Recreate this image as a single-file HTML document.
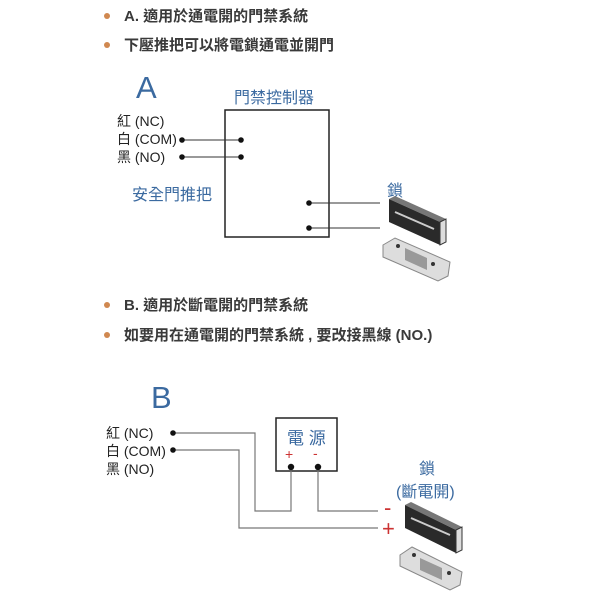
<!DOCTYPE html>
<html><head><meta charset="utf-8"><style>
body{margin:0;width:600px;height:600px;background:#fff;position:relative;overflow:hidden;font-family:"Liberation Sans","Noto Sans CJK TC",sans-serif}
.t{position:absolute;white-space:nowrap}
.b{font-size:15px;font-weight:bold;color:#3a3a3a}
.d{position:absolute;width:6px;height:6px;border-radius:3px;background:#d08850}
.l{font-size:14px;color:#222}
.blue{color:#3b6aa0}
</style></head><body>
<div class="d" style="left:104px;top:13px"></div>
<div class="t b" style="left:124px;top:5px">A. 適用於通電開的門禁系統</div>
<div class="d" style="left:104px;top:42px"></div>
<div class="t b" style="left:124px;top:34px">下壓推把可以將電鎖通電並開門</div>
<div class="d" style="left:104px;top:302px"></div>
<div class="t b" style="left:124px;top:294px">B. 適用於斷電開的門禁系統</div>
<div class="d" style="left:104px;top:332px"></div>
<div class="t b" style="left:124px;top:324px">如要用在通電開的門禁系統 , 要改接黑線 (NO.)</div>

<div class="t blue" style="left:136px;top:70px;font-size:31px">A</div>
<div class="t blue" style="left:234px;top:84px;font-size:16px">門禁控制器</div>
<div class="t l" style="left:117px;top:112px;line-height:18px">紅 (NC)<br>白 (COM)<br>黑 (NO)</div>
<div class="t blue" style="left:132px;top:181px;font-size:16px">安全門推把</div>
<div class="t blue" style="left:387px;top:177px;font-size:16px">鎖</div>

<div class="t blue" style="left:151px;top:380px;font-size:31px">B</div>
<div class="t l" style="left:106px;top:424px;line-height:18px">紅 (NC)<br>白 (COM)<br>黑 (NO)</div>
<div class="t blue" style="left:287px;top:424px;font-size:17px">電 源</div>
<div class="t blue" style="left:419px;top:455px;font-size:16px">鎖</div>
<div class="t blue" style="left:396px;top:478px;font-size:16px">(斷電開)</div>

<svg width="600" height="600" style="position:absolute;left:0;top:0">
<rect x="225" y="110" width="104" height="127" fill="none" stroke="#222" stroke-width="1.5"/>
<g stroke="#333" stroke-width="1"><line x1="182" y1="140" x2="241" y2="140"/><line x1="182" y1="157" x2="241" y2="157"/>
<line x1="309" y1="203" x2="380" y2="203"/><line x1="309" y1="228" x2="380" y2="228"/></g>
<g fill="#111"><circle cx="182" cy="140" r="2.8"/><circle cx="241" cy="140" r="2.8"/><circle cx="182" cy="157" r="2.8"/><circle cx="241" cy="157" r="2.8"/><circle cx="309" cy="203" r="2.8"/><circle cx="309" cy="228" r="2.8"/></g>
<polygon points="389,199 395,196 446,219 440,222" fill="#777"/>
<polygon points="389,199 440,222 440,245 389,222" fill="#2a2a2a"/>
<polygon points="440,222 446,219 446,242 440,245" fill="#ddd" stroke="#333"/>
<line x1="395" y1="212" x2="434" y2="229" stroke="#ccc" stroke-width="2"/>
<polygon points="383,245 395,238 450,262 448,276 438,281 383,257" fill="#ddd" stroke="#888"/>
<polygon points="405,248 427,258 427,270 405,260" fill="#999"/>
<circle cx="398" cy="246" r="2" fill="#333"/><circle cx="433" cy="264" r="2" fill="#333"/>
<rect x="276" y="418" width="61" height="53" fill="none" stroke="#222" stroke-width="1.5"/>
<g fill="none" stroke="#777" stroke-width="1.2">
<polyline points="173,433 255,433 255,511 291,511 291,467"/>
<polyline points="173,450 239,450 239,528 378,528"/>
<polyline points="318,467 318,511 378,511"/></g>
<g fill="#111"><circle cx="173" cy="433" r="2.8"/><circle cx="173" cy="450" r="2.8"/><circle cx="291" cy="467" r="3.2"/><circle cx="318" cy="467" r="3.2"/></g>
<text x="285" y="459" fill="#c33" font-size="14">+</text><text x="313" y="458" fill="#c33" font-size="14">-</text>
<text x="384" y="515" fill="#c33" font-size="22" font-family="Liberation Sans">-</text>
<text x="382" y="536" fill="#c33" font-size="22" font-family="Liberation Sans">+</text>
<polygon points="405,505 411,502 462,527 456,530" fill="#777"/>
<polygon points="405,505 456,530 456,553 405,528" fill="#2a2a2a"/>
<polygon points="456,530 462,527 462,550 456,553" fill="#ddd" stroke="#333"/>
<line x1="411" y1="518" x2="450" y2="535" stroke="#ccc" stroke-width="2"/>
<polygon points="400,555 412,547 462,572 460,585 450,590 400,566" fill="#ddd" stroke="#888"/>
<polygon points="420,558 442,568 442,580 420,570" fill="#999"/>
<circle cx="414" cy="555" r="2" fill="#333"/><circle cx="449" cy="573" r="2" fill="#333"/>
</svg>
</body></html>
